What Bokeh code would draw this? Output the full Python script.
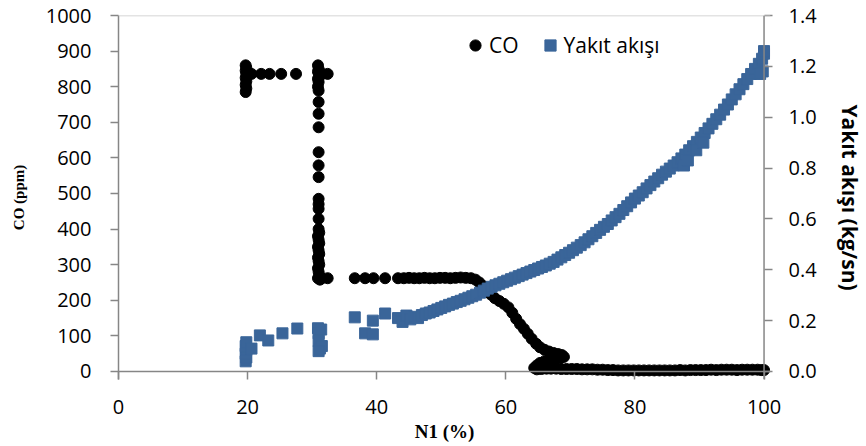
from bokeh.plotting import figure
from bokeh.models import (Range1d, LinearAxis, FixedTicker, Legend, LegendItem,
                          Span, PrintfTickFormatter)
from bokeh.embed import file_html
from bokeh.resources import INLINE

# ---------------- data ----------------
x_ticks = [0, 20, 40, 60, 80, 100]
co_ticks = [0, 100, 200, 300, 400, 500, 600, 700, 800, 900, 1000]
fuel_ticks = [0.0, 0.2, 0.4, 0.6, 0.8, 1.0, 1.2, 1.4]

co_x = [19.7, 19.8, 19.7, 19.8, 19.7, 19.8, 19.7, 19.8, 19.7,
        20.2, 20.6, 22.1, 23.4, 25.2, 27.5,
        30.9, 31.0, 30.9, 31.1, 30.9, 31.0, 30.9, 31.0, 31.0, 31.0, 31.0, 31.0,
        31.0, 31.0, 31.0, 31.0, 31.0, 31.0, 31.0, 31.1, 30.9, 31.0, 31.1, 30.9,
        31.0, 31.1, 30.9, 31.0, 31.1, 30.9, 31.0, 31.1, 30.9, 31.2, 31.5, 32.4,
        32.4, 31.6,
        36.6, 38.2, 39.5, 41.3, 43.3, 44.2, 45.0, 45.8, 46.6, 47.4, 48.2, 49.0,
        49.8, 50.6, 51.4, 52.2, 53.0, 53.8, 54.6, 55.3, 55.9, 56.5, 57.1, 57.7,
        58.3, 59.0, 59.7, 60.4, 61.0, 61.6, 62.2, 62.8, 63.4, 64.0, 64.7, 65.3,
        66.0, 66.7, 67.4, 68.1, 68.7, 69.0, 68.4, 67.6, 66.8, 66.0, 65.3, 64.8,
        64.4, 64.8, 65.5, 66.3, 67.0, 67.8, 68.6, 69.4, 70.2, 71.0, 71.8, 72.6,
        73.4, 74.2, 75.0, 75.8, 76.6, 77.4, 78.2, 79.0, 79.8, 80.6, 81.4, 82.2,
        83.0, 83.8, 84.6, 85.4, 86.2, 87.0, 87.8, 88.6, 89.4, 90.2, 91.0, 91.8,
        92.6, 93.4, 94.2, 95.0, 95.8, 96.6, 97.4, 98.2, 99.0, 99.6, 100.0]
co_ppm = [785, 795, 805, 815, 825, 836, 845, 853, 860,
          836, 836, 836, 836, 836, 836,
          860, 850, 842, 831, 822, 813, 800, 789, 757, 724, 686, 616,
          579, 546, 485, 470, 457, 429, 400, 390, 380, 370, 360, 350,
          340, 330, 320, 310, 300, 290, 280, 270, 262, 258, 262, 262,
          836, 836,
          262, 262, 262, 262, 262, 262, 263, 262, 262, 263, 262, 262,
          263, 263, 262, 263, 264, 263, 262, 258, 250, 240, 228, 216,
          206, 198, 190, 180, 165, 148, 133, 120, 106, 92, 78, 68,
          61, 56, 52, 49, 46, 41, 37, 34, 32, 29, 24, 17,
          10, 6, 7, 8, 8, 8, 7, 7, 7, 7, 6, 6,
          6, 5, 5, 4, 4, 3, 3, 3, 3, 3, 3, 3,
          3, 3, 3, 3, 3, 4, 3, 4, 4, 4, 4, 5,
          4, 5, 5, 5, 4, 5, 5, 5, 5, 4, 4]

fuel_x = [19.7, 19.8, 19.7, 19.8, 19.7, 19.8, 20.6, 21.9, 23.2, 25.4, 27.7,
          30.9, 31.0, 31.4, 31.0, 31.2, 31.5, 31.0,
          36.6, 38.2, 39.4, 39.4, 41.3, 43.3,
          44.0, 44.6, 45.2, 45.8, 46.4, 47.0, 47.6, 48.2, 48.8, 49.4, 50.0, 50.6,
          51.2, 51.8, 52.4, 53.0, 53.6, 54.2, 54.8, 55.4, 56.0, 56.6, 57.2, 57.8,
          58.4, 59.0, 59.6, 60.2, 60.8, 61.4, 62.0, 62.6, 63.2, 63.8, 64.4, 65.0,
          65.6, 66.2, 66.8, 67.4, 68.0, 68.6, 69.2, 69.8, 70.4, 71.0, 71.6, 72.2,
          72.8, 73.4, 74.0, 74.6, 75.2, 75.8, 76.4, 77.0, 77.6, 78.2, 78.8, 79.4,
          80.0, 80.6, 81.2, 81.8, 82.4, 83.0, 83.6, 84.2, 84.8, 85.4, 86.0, 86.6,
          87.2, 87.8, 88.4, 89.0, 89.6, 90.2, 90.8, 91.4, 92.0, 92.6, 93.2, 93.8,
          94.4, 95.0, 95.6, 96.2, 96.8, 97.4, 98.0, 98.6, 99.2, 99.7, 100.0, 100.0,
          99.8, 99.4, 87.6, 88.2, 89.5, 90.6]
fuel_kgs = [0.04, 0.055, 0.07, 0.085, 0.10, 0.115, 0.09, 0.142, 0.122, 0.15, 0.169,
            0.17, 0.15, 0.165, 0.12, 0.09, 0.10, 0.08,
            0.213, 0.15, 0.20, 0.146, 0.228, 0.21,
            0.195, 0.22, 0.205, 0.215, 0.21, 0.222, 0.228, 0.232, 0.238, 0.244, 0.25, 0.256,
            0.262, 0.267, 0.273, 0.278, 0.284, 0.29, 0.296, 0.302, 0.31, 0.318, 0.326, 0.333,
            0.339, 0.345, 0.351, 0.357, 0.363, 0.369, 0.375, 0.381, 0.387, 0.393, 0.399, 0.405,
            0.411, 0.417, 0.424, 0.431, 0.44, 0.449, 0.458, 0.467, 0.477, 0.487, 0.497, 0.508,
            0.52, 0.532, 0.545, 0.557, 0.569, 0.58, 0.594, 0.607, 0.62, 0.635, 0.65, 0.665,
            0.68, 0.692, 0.705, 0.72, 0.733, 0.747, 0.76, 0.774, 0.786, 0.798, 0.81, 0.823,
            0.838, 0.853, 0.87, 0.886, 0.903, 0.92, 0.938, 0.956, 0.974, 0.992, 1.01, 1.03,
            1.05, 1.07, 1.09, 1.11, 1.13, 1.15, 1.17, 1.19, 1.21, 1.23, 1.25, 1.26,
            1.18, 1.17, 0.81, 0.83, 0.87, 0.90]

# ---------------- figure ----------------
AXIS_GRAY = "#868686"
BLUE = "#3A6599"
TICK_FONT = "Open Sans"
X_MIN, X_MAX = 0, 101               # small room right of 100 so markers are not cut
CO_MIN, CO_MAX = -22.5, 1000        # small room below 0 so markers are not cut
FUEL_MAX = 1.4
FUEL_MIN = CO_MIN / CO_MAX * FUEL_MAX

p = figure(width=866, height=446, output_backend="svg", toolbar_location=None,
           x_range=Range1d(X_MIN, X_MAX), y_range=Range1d(CO_MIN, CO_MAX),
           min_border_left=118, min_border_right=94, min_border_top=15,
           min_border_bottom=67)
p.extra_y_ranges = {"fuel": Range1d(FUEL_MIN, FUEL_MAX)}
p.outline_line_color = None
p.xgrid.visible = False
p.ygrid.visible = False
p.background_fill_color = "white"
p.border_fill_color = "white"

# plot-area top border and the axis lines at x=100 and y=0
p.add_layout(Span(location=CO_MAX, dimension="width", line_color="#c8c8c8", line_width=1.5))
p.add_layout(Span(location=0, dimension="width", line_color=AXIS_GRAY, line_width=1.5))
p.add_layout(Span(location=100, dimension="height", line_color=AXIS_GRAY, line_width=1.5))

co_r = p.scatter(co_x, co_ppm, marker="circle", size=11, fill_color="black",
                 line_color="black")
fuel_r = p.scatter(fuel_x, fuel_kgs, marker="square", size=11, fill_color=BLUE,
                   line_color=BLUE, y_range_name="fuel")

def style_axis(ax):
    ax.axis_line_color = AXIS_GRAY
    ax.axis_line_width = 1.5
    ax.major_tick_line_color = AXIS_GRAY
    ax.major_tick_line_width = 1.5
    ax.major_tick_in = 0
    ax.major_tick_out = 8
    ax.minor_tick_line_color = None
    ax.major_label_text_font = TICK_FONT
    ax.major_label_text_font_size = "20px"
    ax.major_label_text_color = "black"
    ax.axis_label_text_color = "black"
    ax.axis_label_text_font_style = "bold"

xa = p.xaxis[0]
style_axis(xa)
xa.axis_line_color = None          # drawn as the span at y=0
xa.major_tick_in = 8                # ticks hang 8px below the y=0 line
xa.major_tick_out = 0
xa.ticker = FixedTicker(ticks=x_ticks)
xa.axis_label = "N1 (%)"
xa.axis_label_text_font = "Liberation Serif"
xa.axis_label_text_font_size = "19px"
xa.major_label_standoff = 20
xa.axis_label_standoff = 4

ya = p.yaxis[0]
style_axis(ya)
ya.ticker = FixedTicker(ticks=co_ticks)
ya.axis_label = "CO (ppm)"
ya.axis_label_text_font = "Liberation Serif"
ya.axis_label_text_font_size = "15px"
ya.major_label_standoff = 19
ya.axis_label_standoff = 16

ra = LinearAxis(y_range_name="fuel", axis_label="Yakıt akışı (kg/sn)")
style_axis(ra)
ra.axis_line_color = None          # drawn as the span at x=100
ra.major_tick_in = 6
ra.major_tick_out = 2
ra.ticker = FixedTicker(ticks=fuel_ticks)
ra.formatter = PrintfTickFormatter(format="%.1f")
ra.axis_label_text_font = "Open Sans"
ra.axis_label_text_font_size = "21px"
ra.major_label_standoff = 16
ra.axis_label_standoff = 16
p.add_layout(ra, "right")

legend = Legend(items=[LegendItem(label="CO", renderers=[co_r]),
                       LegendItem(label="Yakıt akışı", renderers=[fuel_r])],
                orientation="horizontal", location=(343, 320),
                glyph_width=28, glyph_height=28, label_standoff=0, spacing=17,
                padding=0, margin=0, border_line_color=None,
                background_fill_alpha=0,
                label_text_font="Open Sans", label_text_font_size="21px",
                label_text_color="black")
p.add_layout(legend)

open("out.html", "w").write(file_html(p, INLINE))
